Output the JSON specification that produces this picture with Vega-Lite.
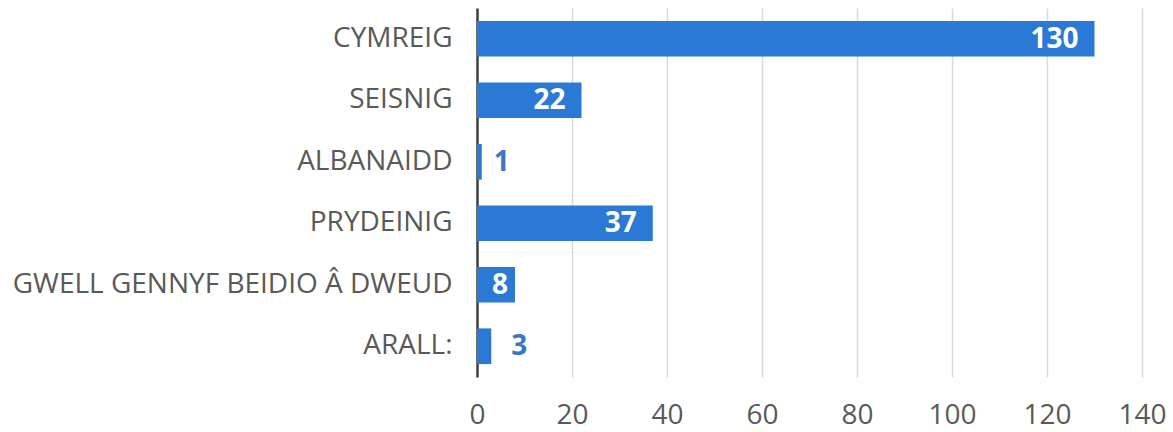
{
  "$schema": "https://vega.github.io/schema/vega-lite/v6.json",
  "width": 665,
  "height": 369,
  "autosize": {"type": "none"},
  "padding": {"left": 477, "top": 8, "right": 31, "bottom": 55},
  "background": "white",
  "config": {"view": {"stroke": null}, "font": "Open Sans"},
  "data": {
    "values": [
      {"category": "CYMREIG", "value": 130},
      {"category": "SEISNIG", "value": 22},
      {"category": "ALBANAIDD", "value": 1},
      {"category": "PRYDEINIG", "value": 37},
      {"category": "GWELL GENNYF BEIDIO Â DWEUD", "value": 8},
      {"category": "ARALL:", "value": 3}
    ]
  },
  "encoding": {
    "y": {
      "field": "category", "type": "nominal", "sort": null,
      "scale": {"paddingInner": 0.42, "paddingOuter": 0.21},
      "axis": {
        "title": null, "ticks": false, "labelPadding": 25,
        "labelFont": "Open Sans", "labelFontSize": 28, "labelColor": "#595959",
        "domainColor": "#404040", "domainWidth": 2.5, "labelLimit": 0
      }
    },
    "x": {
      "field": "value", "type": "quantitative",
      "scale": {"domain": [0, 140], "nice": false},
      "axis": {
        "title": null, "values": [0, 20, 40, 60, 80, 100, 120, 140],
        "domain": false, "ticks": false, "labelPadding": 24,
        "labelFont": "Open Sans", "labelFontSize": 28, "labelColor": "#595959",
        "gridColor": "#D9D9D9", "gridWidth": 1.5, "labelFlush": false
      }
    }
  },
  "layer": [
    {"mark": {"type": "bar", "color": "#2A79D4"}},
    {
      "transform": [{"filter": "datum.value >= 10"}],
      "mark": {"type": "text", "align": "right", "baseline": "middle", "dx": -16, "dy": 1, "fontSize": 28, "fontWeight": "bold", "color": "white", "font": "Open Sans"},
      "encoding": {"text": {"field": "value"}}
    },
    {
      "transform": [{"filter": "datum.value >= 5 && datum.value < 10"}],
      "mark": {"type": "text", "align": "right", "baseline": "middle", "dx": -7, "dy": 1, "fontSize": 28, "fontWeight": "bold", "color": "white", "font": "Open Sans"},
      "encoding": {"text": {"field": "value"}}
    },
    {
      "transform": [{"filter": "datum.value < 2"}],
      "mark": {"type": "text", "align": "left", "baseline": "middle", "dx": 12, "dy": 1, "fontSize": 28, "fontWeight": "bold", "color": "#3B76C9", "font": "Open Sans"},
      "encoding": {"text": {"field": "value"}}
    },
    {
      "transform": [{"filter": "datum.value >= 2 && datum.value < 5"}],
      "mark": {"type": "text", "align": "left", "baseline": "middle", "dx": 20, "dy": 1, "fontSize": 28, "fontWeight": "bold", "color": "#3B76C9", "font": "Open Sans"},
      "encoding": {"text": {"field": "value"}}
    }
  ]
}
